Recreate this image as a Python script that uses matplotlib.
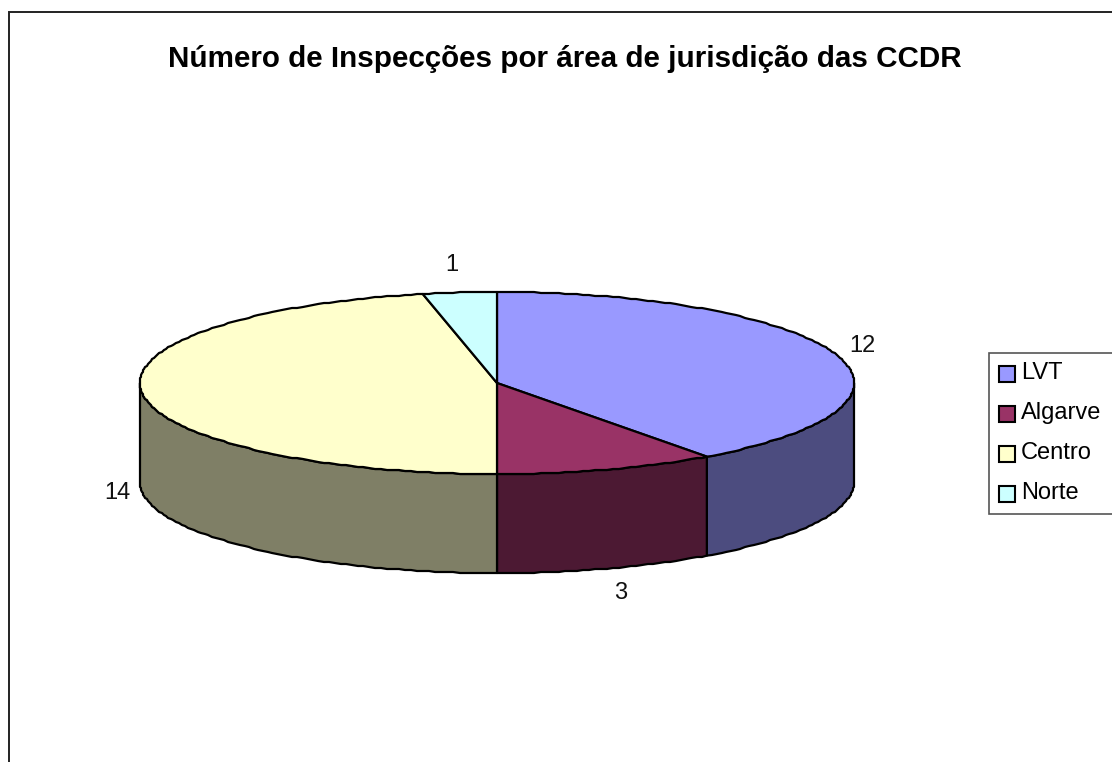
import numpy as np
import matplotlib
matplotlib.use('Agg')
import matplotlib.pyplot as plt
from matplotlib.patches import Polygon, Rectangle

plt.rcParams['font.family'] = ['Liberation Sans', 'DejaVu Sans']

title = 'Número de Inspecções por área de jurisdição das CCDR'
labels = ['LVT', 'Algarve', 'Centro', 'Norte']
values = [12, 3, 14, 1]
top_colors = ['#9999FF', '#993366', '#FFFFCC', '#CCFFFF']
side_colors = ['#4C4C7F', '#4C1933', '#7F7F66', '#667F7F']

# pie geometry in image pixels
cx, cy = 497, 383
rx, ry = 357, 91
depth = 99


def rim(start, end, drop=0):
    # snapped to whole pixels, the old chart has the same slightly stepped outline
    t = np.radians(np.arange(start, end, 1.0))
    t = np.append(t, np.radians(end))
    x = cx + rx * np.sin(t)
    y = cy - ry * np.cos(t) + drop
    pts = np.column_stack([np.round(x), np.round(y)])
    pts[0] = [x[0], y[0]]
    pts[-1] = [x[-1], y[-1]]
    return pts


fig = plt.figure(figsize=(11.12, 7.62), dpi=100)
ax = fig.add_axes([0, 0, 1, 1])
ax.set_xlim(0, 1112)
ax.set_ylim(762, 0)
ax.axis('off')

# chart frame, the crop cuts it off at the bottom and right
ax.plot([8.5, 8.5, 1112], [762, 12, 12], color='#222222', lw=1.4, solid_joinstyle='miter')

ax.text(565, 59, title, ha='center', va='center', fontsize=21.3, fontweight='bold')

angles = np.cumsum([0] + values) / sum(values) * 360

# visible side walls (front half only)
for i in range(len(values)):
    start, end = max(angles[i], 90), min(angles[i + 1], 270)
    if start < end:
        upper = rim(start, end)
        lower = rim(start, end, depth)[::-1]
        ax.add_patch(Polygon(np.vstack([upper, lower]), closed=True, facecolor=side_colors[i],
                             edgecolor='black', lw=1.6, joinstyle='round'))

# top face slices
for i in range(len(values)):
    edge = rim(angles[i], angles[i + 1])
    ax.add_patch(Polygon(np.vstack([[cx, cy], edge]), closed=True, facecolor=top_colors[i],
                         edgecolor='black', lw=1.6, joinstyle='round'))

# data labels
label_pos = [(862, 346), (621, 593), (117, 493), (452, 265)]
for value, (x, y) in zip(values, label_pos):
    ax.text(x, y, str(value), ha='center', va='center', fontsize=17, color='#111111')

# legend
ax.add_patch(Rectangle((988.5, 352.5), 130, 161, facecolor='white', edgecolor='#555555', lw=1.2))
for i, name in enumerate(labels):
    y = 374 + i * 40
    ax.add_patch(Rectangle((999, y - 8), 16, 16, facecolor=top_colors[i], edgecolor='black', lw=1.5))
    ax.text(1021, y - 1, name, ha='left', va='center', fontsize=17)

fig.savefig('out.png', dpi=100)
